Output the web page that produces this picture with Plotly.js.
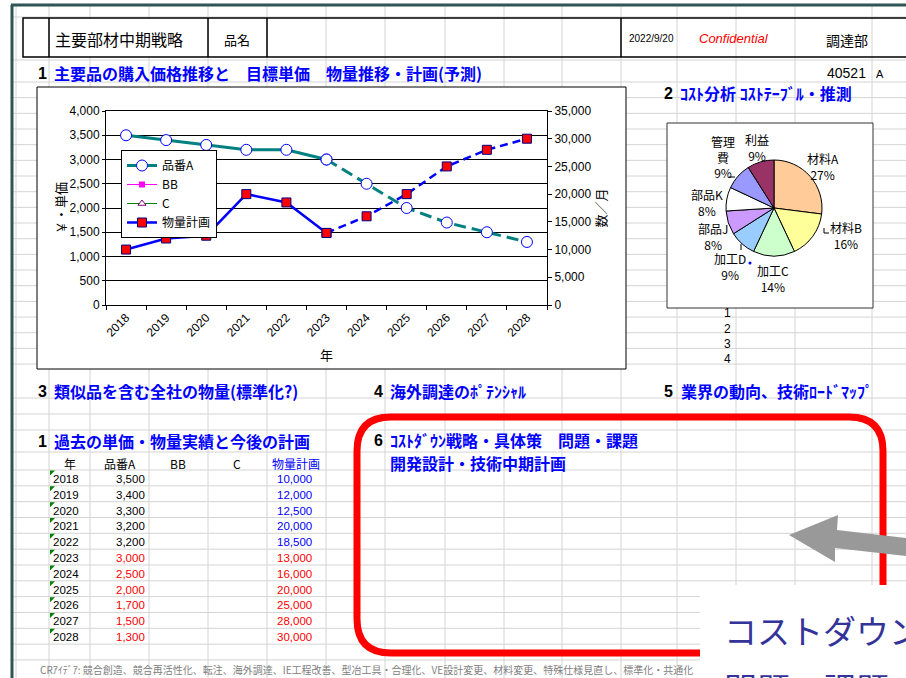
<!DOCTYPE html>
<html><head><meta charset="utf-8">
<script src="https://cdn.plot.ly/plotly-3.0.1.min.js"></script>
<style>html,body{margin:0;padding:0;background:#fff;overflow:hidden;} #chart{width:906px;height:678px;}</style>
</head><body><div id="chart"></div>
<script>
// ---------------- DATA ----------------
const years = ['2018','2019','2020','2021','2022','2023','2024','2025','2026','2027','2028'];
const priceA = [3500, 3400, 3300, 3200, 3200, 3000, 2500, 2000, 1700, 1500, 1300];
const volumePlan = [10000, 12000, 12500, 20000, 18500, 13000, 16000, 20000, 25000, 28000, 30000];
const seriesBB = [null, null, null, null, null, null, null, null, null, null, null];
const seriesC = [null, null, null, null, null, null, null, null, null, null, null];
const forecastStart = 5; // 2023 onward = plan / forecast
const seriesNames = ['品番A', 'BB', 'C', '物量計画'];
const tableHeaders = ['年', '品番A', 'BB', 'C', '物量計画'];

const costItems = ['材料A', '材料B', '加工C', '加工D', '部品J', '部品K', '管理費', '利益'];
const costShares = [27, 16, 14, 9, 8, 8, 9, 9];
const costColors = ['#ffcc99', '#ffff99', '#ccffcc', '#99ccff', '#cc99ff', '#ffffff', '#9999ff', '#993366'];

const rowNumbers = ['1', '2', '3', '4'];

// ---------------- HELPERS ----------------
const W = 906, H = 678;
const px = x => x / W;
const py = y => 1 - y / H;
const JP = "'Noto Sans CJK JP', sans-serif";
const LAT = "'Liberation Sans', 'Noto Sans CJK JP', sans-serif";

const shapes = [];
function ln(x0, y0, x1, y1, color, width) {
  shapes.push({type: 'line', xref: 'paper', yref: 'paper', x0: px(x0), y0: py(y0), x1: px(x1), y1: py(y1),
    line: {color: color, width: width}, layer: 'below'});
}
function rc(x0, y0, x1, y1, fill, lineColor, lw) {
  shapes.push({type: 'rect', xref: 'paper', yref: 'paper', x0: px(x0), y0: py(y0), x1: px(x1), y1: py(y1),
    fillcolor: fill, line: {color: lineColor, width: lw}, layer: 'below'});
}
function pathOf(pts) {
  return pts.map(p => (p[0] + ' ' + px(p[1]) + ',' + py(p[2]))).join(' ');
}

const annotations = [];
function tx(text, x, y, o) {
  o = o || {};
  annotations.push({text: text, x: px(x), y: py(y), xref: 'paper', yref: 'paper', showarrow: false,
    xanchor: o.xa || 'center', yanchor: o.ya || 'middle', align: o.align || 'center',
    font: {family: o.family || JP, size: o.size || 12, color: o.color || '#000'},
    textangle: o.angle || 0});
}

// ---------------- SPREADSHEET GRID ----------------
const gridColor = '#d4d4d4';
const hLines = [17, 60, 82];
for (let k = 1; k <= 18; k++) hLines.push(82 + k * 15.67);
hLines.push(398, 414, 430, 452);
for (let k = 0; k <= 12; k++) hLines.push(470 + k * 15.83);
const vLines = [16, 49, 90, 149, 208, 267, 326, 385, 445, 504, 562, 621, 677, 736, 795, 872];
hLines.forEach(y => ln(12, y, 906, y, gridColor, 1));
vLines.forEach(x => ln(x, 5, x, 678, gridColor, 1));

// header box (merged cell cover + borders)
rc(50, 19, 207.5, 56.5, '#ffffff', 'rgba(0,0,0,0)', 0);
rc(23, 18, 915, 57, 'rgba(0,0,0,0)', '#000000', 1.5);
[49, 208, 267, 621].forEach(x => ln(x, 18, x, 57, '#000000', 1.5));

// outer dark sheet border
ln(12, 5, 12, 678, '#2f5555', 3);
ln(11, 5, 906, 5, '#2f5555', 3);

// chart object boxes
rc(37, 87, 626, 369, '#ffffff', '#000000', 1);
rc(667, 123, 873, 308, '#ffffff', '#333333', 1);

// year-cell green corner markers
for (let i = 0; i < years.length; i++) {
  const t = 470.5 + i * 15.83;
  shapes.push({type: 'path', xref: 'paper', yref: 'paper', layer: 'below',
    path: pathOf([['M', 50, t], ['L', 55, t], ['L', 50, t + 5]]) + ' Z',
    fillcolor: '#008000', line: {width: 0}});
}

// red rounded frame
(function () {
  const x0 = 357, y0 = 417, x1 = 883, y1 = 653, r = 34;
  const p = pathOf([['M', x0 + r, y0], ['L', x1 - r, y0]]) +
    ' Q ' + px(x1) + ',' + py(y0) + ' ' + px(x1) + ',' + py(y0 + r) +
    ' ' + pathOf([['L', x1, y1 - r]]) +
    ' Q ' + px(x1) + ',' + py(y1) + ' ' + px(x1 - r) + ',' + py(y1) +
    ' ' + pathOf([['L', x0 + r, y1]]) +
    ' Q ' + px(x0) + ',' + py(y1) + ' ' + px(x0) + ',' + py(y1 - r) +
    ' ' + pathOf([['L', x0, y0 + r]]) +
    ' Q ' + px(x0) + ',' + py(y0) + ' ' + px(x0 + r) + ',' + py(y0) + ' Z';
  shapes.push({type: 'path', xref: 'paper', yref: 'paper', layer: 'below', path: p,
    line: {color: '#ff0000', width: 7}, fillcolor: 'rgba(0,0,0,0)'});
})();

// gray arrow
shapes.push({type: 'path', xref: 'paper', yref: 'paper', layer: 'below',
  path: pathOf([['M', 789, 535], ['L', 838, 515], ['L', 837, 530], ['L', 906, 538], ['L', 906, 556],
    ['L', 835, 548], ['L', 835, 562]]) + ' Z',
  fillcolor: '#999999', line: {width: 0}});

// blue dot near pie
shapes.push({type: 'circle', xref: 'paper', yref: 'paper', layer: 'below',
  x0: px(748.5), y0: py(261.5), x1: px(751.5), y1: py(264.5), fillcolor: '#0000ff', line: {width: 0}});
// pie leader stubs
ln(729, 177, 735, 177, '#000', 1);
ln(824, 228, 824, 233, '#000', 1);
ln(824, 233, 829, 233, '#000', 1);
ln(741, 244, 741, 250, '#000', 1);

// ---------------- TEXTS ----------------
// header
tx('主要部材中期戦略', 53, 39, {xa: 'left', size: 16});
tx('品名', 237, 40, {size: 13});
tx('2022/9/20', 651, 39, {size: 10, family: LAT});
tx('<i>Confidential</i>', 734, 39, {size: 13, family: LAT, color: '#ff0000'});
tx('調達部', 847, 40, {size: 14});
tx('40521', 868, 73, {xa: 'right', size: 14, family: LAT});
tx('A', 874, 74, {xa: 'left', size: 11, family: LAT});

// section headings
const headBlue = '#0000ff';
function heading(num, text, xNum, xText, y) {
  if (num) tx('<b>' + num + '</b>', xNum, y, {xa: 'right', size: 16, family: LAT});
  tx('<b>' + text + '</b>', xText, y, {xa: 'left', size: 16, color: headBlue});
}
heading('1', '主要品の購入価格推移と　目標単価　物量推移・計画(予測)', 49, 52, 73);
heading('2', 'ｺｽﾄ分析 ｺｽﾄﾃｰﾌﾞﾙ・推測', 675, 678, 93);
heading('3', '類似品を含む全社の物量(標準化?)', 49, 52, 391);
heading('4', '海外調達のﾎﾟﾃﾝｼｬﾙ', 385, 388, 391);
heading('5', '業界の動向、技術ﾛｰﾄﾞﾏｯﾌﾟ', 675, 679, 391);
heading('1', '過去の単価・物量実績と今後の計画', 49, 52, 441);
heading('6', 'ｺｽﾄﾀﾞｳﾝ戦略・具体策　問題・課題', 385, 388, 440);
heading('', '開発設計・技術中期計画', 0, 388, 463);

// table
const headX = [70, 120, 178, 237, 296];
tableHeaders.forEach((h, i) => tx(h, headX[i], 463, {size: 12, color: i === 4 ? '#0000ff' : '#000'}));
for (let i = 0; i < years.length; i++) {
  const y = 479 + i * 15.8;
  const fc = i >= forecastStart;
  tx(years[i], 51, y, {xa: 'left', size: 11.5, family: LAT});
  tx(priceA[i].toLocaleString('en-US'), 147, y, {xa: 'right', size: 11.5, family: LAT, color: fc ? '#ff0000' : '#000'});
  tx(volumePlan[i].toLocaleString('en-US'), 314, y, {xa: 'right', size: 11.5, family: LAT, color: fc ? '#ff0000' : '#0000ff'});
}

// row numbers under pie
rowNumbers.forEach((n, i) => tx(n, 733, 313 + i * 15.5, {xa: 'right', size: 12, family: LAT}));

// pie labels
const pieLabelPos = [[823, 166], [846, 235], [773, 278], [730, 266], [713, 236], [707, 202], [723, 157], [757, 147]];
costItems.forEach((n, i) => {
  const name = n === '管理費' ? '管理<br>費' : n;
  tx(name + '<br>' + costShares[i] + '%', pieLabelPos[i][0], pieLabelPos[i][1], {size: 12});
});

// footer
tx('CRｱｲﾃﾞｱ: 競合創造、競合再活性化、転注、海外調達、IE工程改善、型冶工具・合理化、VE設計変更、材料変更、特殊仕様見直し、標準化・共通化',
  38, 669, {xa: 'left', size: 10, color: '#808080'});

// overlay white text box (covers grid / footer)
annotations.push({text: ' ', x: px(700), y: py(585), xref: 'paper', yref: 'paper', showarrow: false,
  xanchor: 'left', yanchor: 'top', width: 220, height: 110, bgcolor: '#ffffff', borderwidth: 0, borderpad: 0,
  font: {size: 10}});
tx('コストダウン', 722, 630, {xa: 'left', size: 33, color: '#333399'});
tx('問題・課題', 722, 688, {xa: 'left', size: 33, color: '#333399'});

// ---------------- TRACES ----------------
const solidEnd = forecastStart + 1;
const traces = [
  {type: 'scatter', mode: 'lines+markers', name: seriesNames[0],
    x: years.slice(0, solidEnd), y: priceA.slice(0, solidEnd), xaxis: 'x', yaxis: 'y',
    line: {color: '#008080', width: 3},
    marker: {symbol: 'circle', size: 11, color: '#ffffff', line: {color: '#0000ff', width: 1}}},
  {type: 'scatter', mode: 'lines+markers', name: seriesNames[1], x: years, y: seriesBB,
    line: {color: '#ff00ff', width: 1}, marker: {symbol: 'square', size: 6, color: '#ff00ff'}},
  {type: 'scatter', mode: 'lines+markers', name: seriesNames[2], x: years, y: seriesC,
    line: {color: '#008000', width: 1},
    marker: {symbol: 'triangle-up', size: 7, color: '#ffffff', line: {color: '#800080', width: 1}}},
  {type: 'scatter', mode: 'lines+markers', name: seriesNames[3],
    x: years.slice(0, solidEnd), y: volumePlan.slice(0, solidEnd), xaxis: 'x', yaxis: 'y2',
    line: {color: '#0000ff', width: 2.5},
    marker: {symbol: 'square', size: 9, color: '#ff0000', line: {color: '#000080', width: 1}}},
  {type: 'scatter', mode: 'lines+markers', name: seriesNames[0] + ' 計画', showlegend: false,
    x: years.slice(forecastStart), y: priceA.slice(forecastStart), xaxis: 'x', yaxis: 'y',
    line: {color: '#008080', width: 3, dash: '12px,6px'},
    marker: {symbol: 'circle', size: 11, color: '#ffffff', line: {color: '#0000ff', width: 1}}},
  {type: 'scatter', mode: 'lines+markers', name: seriesNames[3] + ' 計画', showlegend: false,
    x: years.slice(forecastStart), y: volumePlan.slice(forecastStart), xaxis: 'x', yaxis: 'y2',
    line: {color: '#0000ff', width: 2.5, dash: '8px,5px'},
    marker: {symbol: 'square', size: 9, color: '#ff0000', line: {color: '#000080', width: 1}}},
  {type: 'pie', labels: costItems, values: costShares, sort: false, direction: 'clockwise', rotation: 0,
    marker: {colors: costColors, line: {color: '#000000', width: 1}}, textinfo: 'none', showlegend: false,
    domain: {x: [px(726), px(822)], y: [py(256), py(160)]}, hoverinfo: 'none'}
];

const tickFont = {family: LAT, size: 12, color: '#000'};
const layout = {
  width: W, height: H, margin: {l: 0, r: 0, t: 0, b: 0},
  paper_bgcolor: '#ffffff', plot_bgcolor: '#ffffff',
  font: {family: JP, color: '#000'},
  hovermode: false, showlegend: true,
  xaxis: {domain: [px(106), px(547)], type: 'category', anchor: 'y', tickangle: -45,
    range: [-0.5, years.length - 0.5], autorange: false,
    showline: true, linecolor: '#000', linewidth: 1, mirror: true,
    ticks: 'outside', tickson: 'boundaries', ticklen: 4, tickcolor: '#000',
    showgrid: false, tickfont: tickFont, automargin: false,
    title: {text: '年', font: {family: JP, size: 13}, standoff: 12}},
  yaxis: {domain: [py(305), py(111)], range: [0, 4000], dtick: 500, tickformat: ',', anchor: 'x',
    showgrid: true, gridcolor: '#000', gridwidth: 1, zeroline: false,
    showline: true, linecolor: '#000', mirror: true, ticks: 'outside', ticklen: 3, tickcolor: '#000',
    tickfont: tickFont, automargin: false,
    title: {text: '￥・単価', font: {family: JP, size: 13}, standoff: 0}},
  yaxis2: {overlaying: 'y', side: 'right', anchor: 'x', range: [0, 35000], dtick: 5000, tickformat: ',',
    showgrid: false, zeroline: false, showline: true, linecolor: '#000',
    ticks: 'outside', ticklen: 4, tickcolor: '#000', tickfont: tickFont, automargin: false,
    title: {text: '数／月', font: {family: JP, size: 13}, standoff: 4}},
  legend: {x: px(121), y: py(150), xanchor: 'left', yanchor: 'top', bgcolor: '#ffffff',
    bordercolor: '#000', borderwidth: 1, font: {family: JP, size: 12}, traceorder: 'normal',
    tracegroupgap: 0},
  shapes: shapes,
  annotations: annotations
};

Plotly.newPlot('chart', traces, layout, {staticPlot: true, displayModeBar: false});
</script>
</body></html>
